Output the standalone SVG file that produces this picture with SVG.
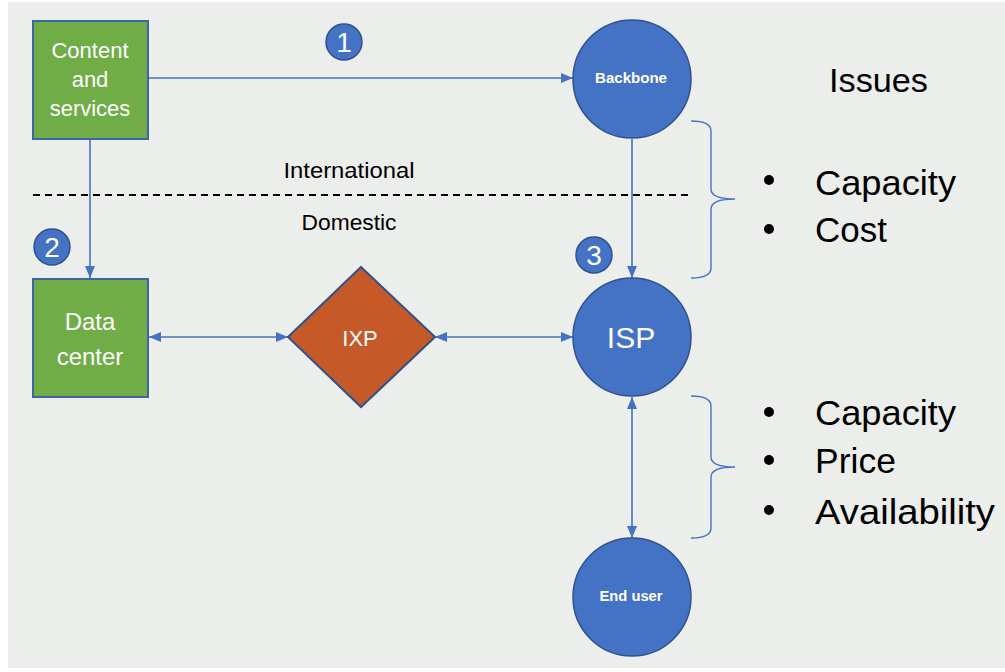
<svg xmlns="http://www.w3.org/2000/svg" width="1005" height="672" viewBox="0 0 1005 672">
<defs>
<style>
.box{fill:#70ad47;stroke:#3f64a8;stroke-width:2}
.circ{fill:#4472c4;stroke:#2f528f;stroke-width:1.5}
.dia{fill:#c55a28;stroke:#2f528f;stroke-width:2}
.wt{fill:#ffffff;font-family:"Liberation Sans",Arial,sans-serif;text-anchor:middle}
.bk{fill:#000000;font-family:"Liberation Sans",Arial,sans-serif}
.conn{stroke:#4472c4;stroke-width:1.6;fill:none}
.brace{stroke:#4472c4;stroke-width:1.4;fill:none}
.badge{fill:#4472c4;stroke:#2f528f;stroke-width:1.5}
</style>
<marker id="ah" viewBox="0 0 12 10" refX="12" refY="5" markerWidth="12" markerHeight="10" markerUnits="userSpaceOnUse" orient="auto-start-reverse">
<path d="M0,0 L12,5 L0,10 Z" fill="#4472c4"/>
</marker>
</defs>
<rect x="0" y="0" width="1005" height="672" fill="#ffffff"/>
<rect x="8" y="2" width="997" height="666" fill="#eceeeb"/>

<g id="connectors">
<line class="conn" x1="149" y1="78" x2="573" y2="78" marker-end="url(#ah)"/>
<line class="conn" x1="90" y1="140" x2="90" y2="278" marker-end="url(#ah)"/>
<line class="conn" x1="632" y1="139" x2="632" y2="278" marker-end="url(#ah)"/>
<line class="conn" x1="149" y1="337" x2="288" y2="337" marker-start="url(#ah)" marker-end="url(#ah)"/>
<line class="conn" x1="435" y1="337" x2="573" y2="337" marker-start="url(#ah)" marker-end="url(#ah)"/>
<line class="conn" x1="632" y1="397" x2="632" y2="538" marker-start="url(#ah)" marker-end="url(#ah)"/>
</g>

<g id="divider">
<line x1="33" y1="195" x2="690" y2="195" stroke="#000" stroke-width="1.8" stroke-dasharray="7,5"/>
<text class="bk" x="349" y="178" font-size="22" text-anchor="middle" textLength="131" lengthAdjust="spacingAndGlyphs">International</text>
<text class="bk" x="349" y="230" font-size="22" text-anchor="middle" textLength="95" lengthAdjust="spacingAndGlyphs">Domestic</text>
</g>

<g id="content">
<rect class="box" x="33" y="21" width="115" height="118"/>
<text class="wt" x="90" y="58" font-size="22">Content</text>
<text class="wt" x="90" y="87" font-size="22">and</text>
<text class="wt" x="90" y="116" font-size="22">services</text>
</g>

<g id="datacenter">
<rect class="box" x="33" y="279" width="115" height="118"/>
<text class="wt" x="90" y="330" font-size="24">Data</text>
<text class="wt" x="90" y="365" font-size="24">center</text>
</g>

<g id="ixp">
<polygon class="dia" points="361,267 435,337 361,407 288,337"/>
<text class="wt" x="360" y="346" font-size="22">IXP</text>
</g>

<g id="backbone">
<circle class="circ" cx="632" cy="79" r="59"/>
<text class="wt" x="631" y="83" font-size="14" font-weight="bold" textLength="72" lengthAdjust="spacingAndGlyphs">Backbone</text>
</g>

<g id="isp">
<circle class="circ" cx="632" cy="337" r="59"/>
<text class="wt" x="631" y="348" font-size="30">ISP</text>
</g>

<g id="enduser">
<circle class="circ" cx="632" cy="597" r="59"/>
<text class="wt" x="631" y="601" font-size="14" font-weight="bold" textLength="63" lengthAdjust="spacingAndGlyphs">End user</text>
</g>

<g id="badge1">
<circle class="badge" cx="344" cy="42" r="18"/>
<text class="wt" x="344" y="52" font-size="28">1</text>
</g>
<g id="badge2">
<circle class="badge" cx="52" cy="247" r="18"/>
<text class="wt" x="52" y="257" font-size="28">2</text>
</g>
<g id="badge3">
<circle class="badge" cx="594" cy="255" r="18"/>
<text class="wt" x="594" y="265" font-size="28">3</text>
</g>

<g id="issues">
<text class="bk" x="829" y="92" font-size="34" textLength="99" lengthAdjust="spacingAndGlyphs">Issues</text>
<path class="brace" d="M691,121 Q711,121 711,131 L711,189 Q711,199 735,199 Q711,199 711,209 L711,268 Q711,278 691,278"/>
<circle cx="769" cy="180" r="5" fill="#000"/>
<text class="bk" x="815" y="195" font-size="35" textLength="141" lengthAdjust="spacingAndGlyphs">Capacity</text>
<circle cx="769" cy="229" r="5" fill="#000"/>
<text class="bk" x="815" y="242" font-size="35" textLength="72" lengthAdjust="spacingAndGlyphs">Cost</text>
<path class="brace" d="M691,396 Q711,396 711,406 L711,457 Q711,467 735,467 Q711,467 711,477 L711,528 Q711,538 691,538"/>
<circle cx="769" cy="412" r="5" fill="#000"/>
<text class="bk" x="815" y="425" font-size="35" textLength="141" lengthAdjust="spacingAndGlyphs">Capacity</text>
<circle cx="769" cy="460" r="5" fill="#000"/>
<text class="bk" x="815" y="473" font-size="35" textLength="81" lengthAdjust="spacingAndGlyphs">Price</text>
<circle cx="769" cy="510" r="5" fill="#000"/>
<text class="bk" x="815" y="524" font-size="35" textLength="180" lengthAdjust="spacingAndGlyphs">Availability</text>
</g>
</svg>
